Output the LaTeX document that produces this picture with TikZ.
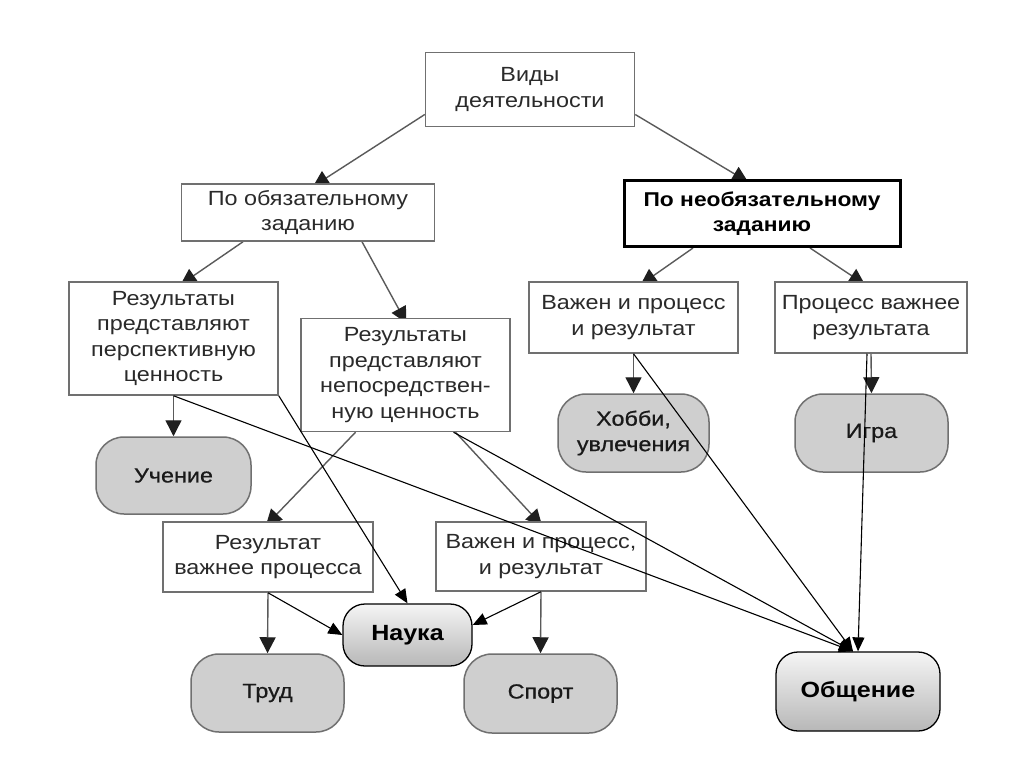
\documentclass[tikz,border=0pt]{standalone}
\usepackage{fontspec}
\setmainfont{Liberation Sans}[FakeStretch=1.14]
\newfontfamily\pillfont{Liberation Sans}[FakeStretch=1.14,FakeBold=0.7]
\usetikzlibrary{arrows.meta,backgrounds}
\definecolor{boxline}{HTML}{707070}
\definecolor{treeline}{HTML}{5A5A5A}
\definecolor{pillfill}{HTML}{CFCFCF}
\definecolor{txt}{HTML}{2A2A2A}
\tikzset{
  base/.style={align=center, inner sep=0pt, font=\fontsize{20.5}{25.5}\selectfont, text=txt},
  sqbox/.style={base, draw=boxline, line width=1.5pt, fill=white},
  boldbox/.style={base, draw=black, line width=3pt, fill=white, font=\fontsize{20}{25}\selectfont\bfseries, text=black},
  pill/.style={base, draw=boxline, line width=1.5pt, fill=pillfill, rounded corners=28pt, font=\fontsize{20.5}{25.5}\selectfont\pillfont, text=black!90},
  gpill/.style={base, draw=black, line width=1.3pt, rounded corners=22pt, top color=white!96!black, bottom color=white!72!black, font=\fontsize{22}{25}\selectfont\bfseries, text=black},
  tree/.style={draw=treeline, line width=1.4pt, -{Triangle[length=16pt,width=16pt,color=black!88]}},
  treein/.style={tree, shorten >=-6pt},
  link/.style={draw=black, line width=1.1pt, -{Triangle[length=14pt,width=12pt]}}
}
\begin{document}
\begin{tikzpicture}[x=1pt,y=-1pt]
\begin{scope}[on background layer]
\fill[white] (0,0) rectangle (1024,767);
\end{scope}
\useasboundingbox (0,0) rectangle (1024,767);
% square boxes
\node[sqbox, minimum width=209pt, minimum height=74pt] (vid) at (530,89.5) {Виды\\деятельности};
\node[sqbox, minimum width=253pt, minimum height=57pt] (obz) at (308,212.5) {По обязательному\\заданию};
\node[boldbox, minimum width=276pt, minimum height=66pt] (neobz) at (762,213.5) {По необязательному\\заданию};
\node[sqbox, minimum width=209pt, minimum height=113pt] (persp) at (173.5,338.5) {Результаты\\представляют\\перспективную\\ценность};
\node[sqbox, minimum width=209pt, minimum height=113pt] (nepo) at (405.5,375) {Результаты\\представляют\\непосредствен-\\ную ценность};
\node[sqbox, minimum width=209pt, minimum height=71pt] (vpr) at (633.5,317.5) {Важен и процесс\\и результат};
\node[sqbox, minimum width=192pt, minimum height=71pt] (pvr) at (871,317.5) {Процесс важнее\\результата};
\node[sqbox, minimum width=210pt, minimum height=70pt] (rvp) at (268,557) {Результат\\важнее процесса};
\node[sqbox, minimum width=210pt, minimum height=69pt] (vpr2) at (541,556.5) {Важен и процесс,\\и результат};
% pills
\node[pill, minimum width=151pt, minimum height=78pt] (hobby) at (633.5,433) {Хобби,\\увлечения};
\node[pill, minimum width=153pt, minimum height=78pt] (igra) at (871.5,433) {Игра};
\node[pill, minimum width=155pt, minimum height=77pt] (uch) at (173.5,475.5) {Учение};
\node[pill, minimum width=153pt, minimum height=78pt] (trud) at (267.5,693) {Труд};
\node[pill, minimum width=153pt, minimum height=79pt] (sport) at (540.5,693.5) {Спорт};
\node[gpill, minimum width=129pt, minimum height=62pt] (nauka) at (407.5,635) {Наука};
\node[gpill, minimum width=164pt, minimum height=79pt] (obsh) at (858,691.5) {Общение};
% tree arrows (behind the boxes)
\begin{scope}[on background layer]
\draw[treein] ([yshift=-25pt]vid.west) -- ([xshift=10pt]obz.north);
\draw[treein] ([yshift=-25pt]vid.east) -- ([xshift=-19pt]neobz.north);
\draw[treein] ([xshift=-65pt]obz.south) -- ([xshift=12pt]persp.north);
\draw[treein] ([xshift=54pt]obz.south) -- ([xshift=-2pt]nepo.north);
\draw[treein] ([xshift=-69pt]neobz.south) -- ([xshift=12pt]vpr.north);
\draw[treein] ([xshift=48pt]neobz.south) -- ([xshift=-11pt]pvr.north);
\draw[tree] (vpr.south) -- (hobby.north);
\draw[tree] (pvr.south) -- (igra.north);
\draw[tree] (persp.south) -- (uch.north);
\draw[treein] ([xshift=-50pt]nepo.south) -- ([xshift=2pt]rvp.north);
\draw[treein] ([xshift=50pt]nepo.south) -- ([xshift=-3pt]vpr2.north);
\draw[tree] (rvp.south) -- (trud.north);
\draw[tree] (vpr2.south) -- (sport.north);
\end{scope}
% black links
\draw[link] (persp.south) -- ([xshift=-5pt]obsh.north);
\draw[link] (persp.south east) -- (nauka.north);
\draw[link] ([xshift=48pt]nepo.south) -- ([xshift=-5pt]obsh.north);
\draw[link] (vpr.south) -- ([xshift=-5pt]obsh.north);
\draw[link] ([xshift=-4pt]pvr.south) -- (obsh.north);
\draw[link] (rvp.south) -- (nauka.west);
\draw[link] (vpr2.south) -- ([yshift=10pt]nauka.east);
\end{tikzpicture}
\end{document}
